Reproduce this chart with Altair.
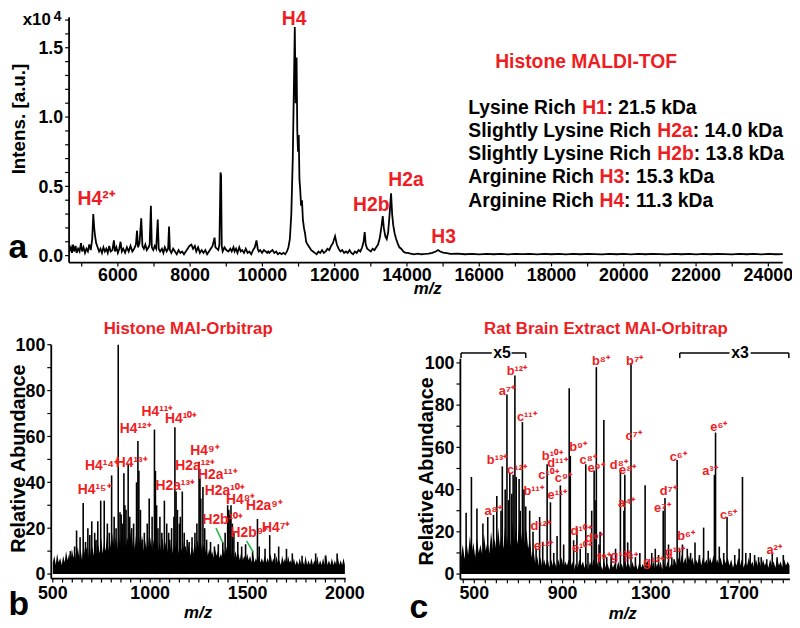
import altair as alt
import pandas as pd

# ---------------- DATA ----------------
# Panel a: Histone MALDI-TOF spectrum (m/z, intensity in 1e4 a.u.)
a_mz = [4660, 4700, 4730, 4760, 4790, 4830, 4860, 4900, 4940, 4980, 5010, 5050, 5090, 5130, 5170, 5210, 5250,
        5290, 5320, 5345, 5370, 5400, 5440, 5480, 5520, 5560, 5600, 5640, 5680, 5720, 5760, 5800, 5850, 5890,
        5920, 5960, 6000, 6040, 6074, 6110, 6150, 6200, 6250, 6300, 6350, 6400, 6450, 6500, 6530, 6560, 6600,
        6647, 6680, 6720, 6760, 6800, 6850, 6880, 6914, 6940, 6980, 7020, 7060, 7104, 7130, 7170, 7220, 7260,
        7300, 7350, 7390, 7416, 7440, 7480, 7530, 7580, 7630, 7680, 7730, 7780, 7830, 7880, 7930, 7980, 8036,
        8080, 8130, 8170, 8220, 8270, 8320, 8370, 8420, 8470, 8520, 8570, 8620, 8676, 8700, 8740, 8780, 8810,
        8841, 8856, 8875, 8900, 8950, 9000, 9060, 9110, 9150, 9200, 9230, 9270, 9310, 9360, 9400, 9440, 9490,
        9540, 9590, 9640, 9690, 9740, 9790, 9836, 9870, 9900, 9940, 9990, 10040, 10090, 10130, 10160, 10190, 10230,
        10280, 10330, 10380, 10430, 10480, 10530, 10580, 10630, 10680, 10720, 10760, 10800, 10840, 10870, 10896,
        10920, 10945, 10965, 10985, 11005, 11025, 11045, 11070, 11095, 11120, 11150, 11180, 11210, 11250, 11300,
        11350, 11400, 11450, 11500, 11550, 11600, 11650, 11700, 11750, 11800, 11850, 11900, 11950, 12010, 12060,
        12110, 12160, 12210, 12260, 12310, 12360, 12410, 12460, 12510, 12560, 12610, 12660, 12710, 12760, 12800,
        12830, 12860, 12900, 12950, 13000, 13050, 13100, 13150, 13200, 13250, 13300, 13330, 13360, 13400, 13440,
        13480, 13520, 13560, 13590, 13620, 13660, 13700, 13740, 13790, 13840, 13900, 13960, 14020, 14100, 14200,
        14300, 14400, 14500, 14600, 14700, 14800, 14860, 14920, 15000, 15100, 15200, 15400, 15600, 15800, 16000,
        16200, 16400, 16600, 16800, 17000, 17200, 17400, 17600, 17800, 18000, 18200, 18400, 18600, 18800, 19000,
        19200, 19400, 19600, 19800, 20000, 20200, 20400, 20600, 20800, 21000, 21200, 21400, 21600, 21800, 22000,
        22200, 22400, 22600, 22800, 23000, 23200, 23400, 23600, 23800, 24000, 24200, 24400]
a_int = [.03, .06, .02, .08, .03, .07, .02, .05, .03, .09, .03, .06, .02, .05, .03, .08, .04,
         .12, .30, .20, .14, .09, .06, .03, .05, .02, .06, .03, .05, .02, .07, .03, .04, .11,
         .03, .06, .02, .05, .10, .03, .05, .02, .06, .03, .07, .03, .05, .08, .18, .06, .09,
         .27, .07, .05, .08, .04, .06, .08, .36, .06, .04, .07, .05, .26, .05, .03, .05, .02,
         .06, .03, .05, .21, .04, .02, .05, .03, .01, .04, .02, .03, .01, .03, .05, .07, .08,
         .05, .07, .03, .06, .02, .04, .02, .04, .01, .03, .05, .07, .13, .06, .05, .04, .08,
         .60, .58, .07, .03, .06, .04, .03, .05, .03, .06, .03, .05, .02, .06, .03, .04, .02,
         .05, .02, .03, .01, .04, .06, .11, .05, .03, .04, .02, .04, .03, .02, .03, .02, .03,
         .04, .02, .03, .01, .02, .01, .02, .01, .03, .06, .12, .30, .70, 1.20, 1.65,
         1.10, 1.43, .90, .75, .87, .55, .48, .36, .40, .26, .20, .16, .10, .08, .06,
         .04, .03, .02, .01, .03, .02, .04, .02, .03, .05, .04, .07, .09, .14, .08,
         .05, .03, .04, .02, .03, .02, .04, .02, .01, .03, .02, .04, .03, .06, .10,
         .17, .08, .05, .04, .03, .05, .04, .06, .08, .13, .22, .285, .20, .14, .12,
         .17, .30, .45, .30, .22, .16, .12, .09, .06, .05, .03, .02, .02, .015, .01,
         .015, .01, .012, .015, .02, .03, .04, .03, .022, .018, .012, .014, .010, .013, .009,
         .012, .010, .013, .009, .012, .011, .013, .009, .012, .010, .013, .009, .012, .010, .013,
         .011, .009, .012, .010, .013, .009, .012, .010, .013, .011, .009, .012, .010, .013, .009,
         .012, .010, .013, .011, .009, .012, .010, .013, .009, .012, .010, .011]
a_labels = ["H4", "H4²⁺", "H2b", "H2a", "H3"]
a_label_mz = [10877, 5411, 13014, 13973, 15014]
a_label_y = [1.664, 0.364, 0.32, 0.50, 0.093]
a_xtick_labels = ["6000", "8000", "10000", "12000", "14000", "16000", "18000", "20000", "22000", "24000"]
a_ytick_labels = ["0.0", "0.5", "1.0", "1.5"]

info_prefix = ["Lysine Rich ", "Slightly Lysine Rich ", "Slightly Lysine Rich ", "Arginine Rich ", "Arginine Rich "]
info_name = ["H1", "H2a", "H2b", "H3", "H4"]
info_suffix = [": 21.5 kDa", ": 14.0 kDa", ": 13.8 kDa", ": 15.3 kDa", ": 11.3 kDa"]

# Panel b: Histone MAI-Orbitrap (noise envelope and peaks, relative abundance)
b_noise_mz = [500, 508, 515, 522, 530, 538, 546, 553, 561, 568, 576, 584, 591, 598, 606, 613, 620, 628, 636, 643,
              650, 658, 666, 673, 681, 688, 696, 703, 711, 718, 726, 733, 741, 748, 756, 763, 771, 778, 786, 793,
              801, 808, 816, 823, 831, 838, 846, 853, 861, 868, 876, 883, 891, 898, 906, 913, 921, 928, 936, 943,
              951, 958, 966, 973, 981, 988, 996, 1003, 1011, 1018, 1026, 1033, 1041, 1048, 1056, 1063, 1071, 1078,
              1086, 1093, 1101, 1108, 1116, 1123, 1131, 1138, 1146, 1153, 1161, 1168, 1176, 1183, 1191, 1198, 1206,
              1213, 1221, 1228, 1236, 1243, 1251, 1258, 1266, 1273, 1281, 1288, 1296, 1303, 1311, 1318, 1326, 1333,
              1341, 1348, 1356, 1363, 1371, 1378, 1386, 1393, 1401, 1408, 1416, 1423, 1431, 1438, 1446, 1453, 1461,
              1468, 1476, 1483, 1491, 1498, 1506, 1513, 1521, 1528, 1536, 1543, 1551, 1558, 1566, 1573, 1581, 1588,
              1596, 1603, 1611, 1618, 1626, 1633, 1641, 1648, 1656, 1663, 1671, 1678, 1686, 1693, 1701, 1708, 1716,
              1723, 1731, 1738, 1746, 1753, 1761, 1768, 1776, 1783, 1791, 1798, 1806, 1813, 1821, 1828, 1836, 1843,
              1851, 1858, 1866, 1873, 1881, 1888, 1896, 1903, 1911, 1918, 1926, 1933, 1941, 1948, 1956, 1963, 1971,
              1978, 1986, 1993, 2000]
b_noise_h = [5, 8, 4, 9, 5, 7, 4, 8, 5, 10, 6, 9, 5, 11, 7, 10, 6, 12, 7, 11,
             6, 13, 8, 12, 7, 14, 8, 12, 8, 15, 9, 13, 9, 16, 9, 14, 10, 17, 10, 15,
             10, 18, 11, 16, 11, 19, 12, 17, 11, 18, 12, 16, 12, 19, 11, 17, 11, 18, 12, 16,
             11, 17, 10, 15, 11, 17, 10, 16, 10, 15, 11, 17, 10, 14, 10, 16, 10, 14,
             9, 13, 10, 15, 9, 14, 11, 16, 9, 13, 10, 15, 9, 12, 9, 13, 8,
             12, 9, 14, 10, 15, 11, 16, 10, 13, 9, 12, 8, 11, 8, 10, 7, 11,
             8, 10, 7, 9, 7, 11, 8, 12, 9, 13, 8, 11, 7, 10, 7, 9, 6,
             10, 6, 8, 6, 9, 6, 8, 5, 9, 5, 7, 5, 8, 5, 7, 5, 8,
             5, 7, 5, 9, 5, 7, 4, 8, 5, 6, 4, 8, 5, 7, 4, 8, 5,
             6, 4, 7, 4, 6, 4, 7, 4, 6, 4, 8, 4, 6, 4, 7, 4, 6,
             4, 8, 4, 6, 4, 7, 4, 9, 4, 6, 4, 7, 4, 6, 4, 8, 4,
             6, 4, 7, 4]
b_peak_mz = [590, 612, 622, 640, 656, 668, 680, 690, 700, 715, 722, 731, 746, 764, 780, 790, 802, 815, 825, 836,
             845, 851, 858, 865, 870, 876, 887, 895, 905, 915, 930, 937, 942, 950, 960, 970, 985, 995, 1010, 1022,
             1027, 1033, 1040, 1050, 1060, 1073, 1085, 1095, 1100, 1110, 1122, 1127, 1133, 1140, 1150, 1155, 1165,
             1175, 1180, 1190, 1200, 1215, 1230, 1240, 1251, 1256, 1260, 1271, 1280, 1290, 1310, 1330, 1350, 1373,
             1385, 1398, 1404, 1410, 1415, 1422, 1430, 1450, 1470, 1490, 1526, 1551, 1560, 1590, 1614, 1640, 1660,
             1700, 1730, 1780, 1850, 1900, 1960]
b_peak_h = [10, 12, 19, 16, 31, 14, 20, 17, 23, 18, 15, 23, 32, 32, 22, 18, 43, 25, 20, 100,
            27, 26, 22, 44, 30, 28, 48, 25, 20, 22, 40, 58, 45, 28, 15, 18, 22, 33, 25, 63,
            45, 30, 20, 25, 18, 32, 22, 18, 15, 20, 25, 64, 36, 28, 22, 25, 36,
            18, 12, 15, 14, 16, 18, 22, 49, 42, 33, 38, 20, 15, 14, 12, 13, 14,
            18, 30, 28, 26, 30, 22, 18, 14, 12, 13, 10, 24, 12, 11, 17, 9, 12,
            11, 9, 8, 9, 8, 9]
b_labels = ["H4¹⁵⁺", "H4¹⁴⁺", "H4¹³⁺", "H4¹²⁺", "H4¹¹⁺", "H4¹⁰⁺", "H2a¹³⁺", "H4⁹⁺", "H2a¹²⁺", "H2a¹¹⁺",
            "H2a¹⁰⁺", "H4⁸⁺", "H2a⁹⁺", "H2b¹⁰⁺", "H2b⁹⁺", "H4⁷⁺"]
b_label_mz = [714.6, 752.7, 905, 925.6, 1037.5, 1159.5, 1129, 1281.5, 1230.7, 1347.6,
              1383, 1464.5, 1586.6, 1373, 1510, 1647.6]
b_label_y = [36.6, 47.3, 48.2, 63.3, 70.7, 67.6, 38.3, 53.8, 47.3, 43,
             36.1, 32.2, 29.7, 23.6, 18, 20.1]
b_leader_mz1 = [1338, 1495]
b_leader_mz2 = [1373.5, 1530.6]
b_leader_y1 = [20.1, 14.5]
b_leader_y2 = [13.6, 9.4]
b_xtick_labels = ["500", "1000", "1500", "2000"]
b_ytick_labels = ["0", "20", "40", "60", "80", "100"]

# Panel c: Rat brain extract MAI-Orbitrap
c_noise_mz = [440, 448, 456, 464, 472, 480, 488, 496, 504, 512, 520, 528, 536, 544, 552, 560, 568, 576, 584, 592,
              600, 608, 616, 624, 632, 640, 648, 656, 664, 672, 680, 688, 696, 704, 712, 720, 728, 736, 744, 752,
              760, 768, 776, 784, 792, 800, 808, 816, 824, 832, 840, 848, 856, 864, 872, 880, 888, 896, 904, 912,
              920, 928, 936, 944, 952, 960, 968, 976, 984, 992, 1000, 1008, 1016, 1024, 1032, 1040, 1048, 1056,
              1064, 1072, 1080, 1088, 1096, 1104, 1112, 1120, 1128, 1136, 1144, 1152, 1160, 1168, 1176, 1184, 1192,
              1200, 1208, 1216, 1224, 1232, 1240, 1248, 1256, 1264, 1272, 1280, 1288, 1296, 1304, 1312, 1320, 1328,
              1336, 1344, 1352, 1360, 1368, 1376, 1384, 1392, 1400, 1408, 1416, 1424, 1432, 1440, 1448, 1456, 1464,
              1472, 1480, 1488, 1496, 1504, 1512, 1520, 1528, 1536, 1544, 1552, 1560, 1568, 1576, 1584, 1592, 1600,
              1608, 1616, 1624, 1632, 1640, 1648, 1656, 1664, 1672, 1680, 1688, 1696, 1704, 1712, 1720, 1728, 1736,
              1744, 1752, 1760, 1768, 1776, 1784, 1792, 1800, 1808, 1816, 1824, 1832, 1840, 1848, 1856, 1864, 1872,
              1880, 1888, 1896, 1904, 1912, 1920, 1928]
c_noise_h = [8, 14, 7, 16, 9, 18, 10, 15, 8, 17, 10, 14, 9, 19, 11, 16, 10, 20, 12, 17,
             11, 22, 13, 19, 12, 24, 14, 21, 13, 25, 15, 22, 14, 26, 16, 23, 14, 21, 12, 17,
             8, 12, 5, 9, 4, 8, 3, 7, 4, 8, 3, 7, 4, 6, 3, 7, 4, 8, 3, 6,
             4, 7, 3, 6, 2, 5, 3, 7, 4, 6, 3, 5, 2, 6, 3, 7, 4, 6,
             3, 5, 2, 6, 3, 5, 2, 6, 3, 5, 2, 6, 3, 5, 2, 6, 3,
             5, 2, 6, 3, 5, 2, 6, 3, 5, 2, 6, 3, 5, 3, 6, 2, 5,
             3, 6, 2, 5, 3, 6, 3, 5, 4, 7, 4, 8, 5, 9, 5, 8, 4,
             9, 5, 8, 4, 7, 5, 9, 4, 8, 5, 7, 4, 8, 5, 9, 4, 7,
             5, 8, 4, 7, 5, 8, 4, 7, 3, 6, 4, 8, 4, 7, 3, 6, 4,
             8, 4, 6, 3, 7, 4, 6, 3, 7, 4, 6, 3, 7, 4, 6, 3, 8,
             4, 6, 3, 7, 4, 6, 4]
c_peak_mz = [463, 487, 512, 539, 561, 587, 602, 621, 627, 640, 648, 655, 661, 670, 676, 684, 690, 703, 708, 718,
             725, 733, 751, 766, 780, 796, 810, 830, 845, 860, 875, 890, 905, 930, 935, 950, 965, 980, 1005, 1015,
             1032, 1043, 1047, 1053, 1065, 1070, 1087, 1100, 1120, 1140, 1162, 1178, 1182, 1195, 1210, 1230, 1250,
             1274, 1285, 1304, 1320, 1335, 1356, 1364, 1380, 1395, 1405, 1419, 1430, 1443, 1465, 1480, 1500, 1520,
             1539, 1560, 1588, 1593, 1610, 1630, 1645, 1680, 1700, 1715, 1730, 1750, 1770, 1788, 1800, 1825, 1850,
             1872, 1900]
c_peak_h = [29, 46, 31, 24, 27, 28, 37, 30, 51, 40, 85, 35, 48, 38, 47, 94, 46, 45, 30, 72,
            40, 32, 30, 20, 12, 27, 15, 52, 34, 10, 18, 42, 14, 88, 56, 16, 22, 12, 52, 10,
            30, 49, 35, 98, 14, 20, 73, 8, 9, 12, 50, 30, 47, 15, 100, 8, 10,
            42, 6, 10, 12, 9, 30, 36, 14, 8, 7, 54, 12, 14, 12, 10, 15, 9,
            22, 11, 47, 67, 13, 10, 27, 9, 12, 46, 10, 10, 9, 8, 8, 7, 10,
            8, 9]
c_labels = ["b¹²⁺", "a⁷⁺", "c¹¹⁺", "b¹³⁺", "c¹²⁺", "b¹¹⁺", "a⁸⁺", "d¹²⁺", "e¹²⁺", "b¹⁰⁺",
            "d¹¹⁺", "c¹⁰⁺", "c⁹⁺", "e¹¹⁺", "b⁹⁺", "c⁸⁺", "e⁹⁺", "b⁸⁺", "d¹⁰⁺", "d⁹⁺",
            "e¹⁰⁺", "f⁹⁺", "g¹³⁺", "d⁸⁺", "e⁸⁺", "a⁴⁺", "b⁷⁺", "c⁷⁺", "f⁸⁺", "g¹²⁺",
            "g¹¹⁺", "d⁷⁺", "e⁷⁺", "c⁶⁺", "b⁶⁺", "a³⁺", "e⁶⁺", "c⁵⁺", "a²⁺"]
c_label_mz = [692.8, 648, 737.7, 603, 692.8, 769, 585, 800.4, 814, 854,
              876.7, 836.3, 903.6, 876.7, 970.9, 1015.7, 1051.6, 1074, 984.3, 1042.6,
              988.8, 1087.4, 1163.7, 1154.7, 1195, 1190.6, 1226.5, 1222, 1208.5, 1311.7,
              1410.3, 1379, 1352, 1423.8, 1459.6, 1567.3, 1607.6, 1652.5, 1858.7]
c_label_y = [96, 86.6, 74.4, 53.8, 49.1, 39.3, 30, 22.8, 13.4, 56.1,
             52.4, 46.8, 45.3, 37.3, 60.3, 53.8, 50, 101.1, 20.5, 17.2,
             12.5, 7.8, 8.7, 51.4, 49.1, 33.6, 101.1, 65.5, 7.8, 5.5,
             10.2, 39.3, 31.3, 55.6, 18.1, 48.6, 69.7, 28, 11.5]
c_scale_text = ["x5", "x3"]
c_scale_text_mz = [625.6, 1704]
c_bracket_mz1 = [440, 669, 1431, 1752]
c_bracket_mz2 = [579, 733, 1656, 1925]
c_bracket_ends = [440, 733, 1431, 1925]
c_bracket_level = 104.7
c_bracket_tip = 102.3
c_xtick_labels = ["500", "900", "1300", "1700"]
c_ytick_labels = ["0", "20", "40", "60", "80", "100"]

# ---------------- STYLE / LAYOUT ----------------
RED = "#ee1d23"
GREEN = "#2db34a"
FONT = "Liberation Sans"
W, H = 792, 620


def P(v):  # page pixel -> chart pixel
    return v - 8


def axis_layers(xs, ys, xdom, ydom, xaxis_px, yaxis_px, xticks, xlabs, yticks, ylabs, xlab_base):
    k = dict(color="black")
    dom_x = alt.Chart(pd.DataFrame({"a": [xdom[0]], "b": [xdom[1]]})).mark_rule(strokeWidth=1.8, **k).encode(
        x=alt.X("a:Q", scale=xs, axis=None), x2="b:Q", y=alt.value(xaxis_px))
    dom_y = alt.Chart(pd.DataFrame({"a": [ydom[0]], "b": [ydom[1]]})).mark_rule(strokeWidth=1.8, **k).encode(
        y=alt.Y("a:Q", scale=ys, axis=None), y2="b:Q", x=alt.value(yaxis_px))
    tk_x = alt.Chart(pd.DataFrame({"v": xticks})).mark_rule(strokeWidth=1.2, **k).encode(
        x=alt.X("v:Q", scale=xs, axis=None), y=alt.value(xaxis_px), y2=alt.value(xaxis_px + 4))
    tk_y = alt.Chart(pd.DataFrame({"v": yticks})).mark_rule(strokeWidth=1.2, **k).encode(
        y=alt.Y("v:Q", scale=ys, axis=None), x=alt.value(yaxis_px - 4), x2=alt.value(yaxis_px))
    lb_x = alt.Chart(pd.DataFrame({"v": [float(t) for t in xlabs], "t": xlabs})).mark_text(
        font=FONT, fontWeight="bold", fontSize=18, align="center", baseline="alphabetic", **k).encode(
        x=alt.X("v:Q", scale=xs, axis=None), y=alt.value(xlab_base), text="t:N")
    lb_y = alt.Chart(pd.DataFrame({"v": [float(t) for t in ylabs], "t": ylabs})).mark_text(
        font=FONT, fontWeight="bold", fontSize=18, align="right", baseline="alphabetic", dy=6.4, **k).encode(
        y=alt.Y("v:Q", scale=ys, axis=None), x=alt.value(yaxis_px - 6), text="t:N")
    return [dom_x, dom_y, tk_x, tk_y, lb_x, lb_y]


# ----- panel a -----
a_xdom, a_ydom = [4650, 24400], [-0.05, 1.72]
a_xs = alt.Scale(domain=a_xdom, range=[P(69.7), P(790.7)], nice=False, zero=False)
a_ys = alt.Scale(domain=a_ydom, range=[P(262), P(14.2)], nice=False, zero=False)
a_line = alt.Chart(pd.DataFrame({"mz": a_mz, "i": a_int})).mark_line(color="black", strokeWidth=1.8).encode(
    x=alt.X("mz:Q", scale=a_xs, axis=None), y=alt.Y("i:Q", scale=a_ys, axis=None))
a_lab = alt.Chart(pd.DataFrame({"t": a_labels, "mz": a_label_mz, "y": a_label_y})).mark_text(
    color=RED, font=FONT, fontWeight="bold", fontSize=19.5, baseline="alphabetic").encode(
    x=alt.X("mz:Q", scale=a_xs, axis=None), y=alt.Y("y:Q", scale=a_ys, axis=None), text="t:N")
a_axes = axis_layers(a_xs, a_ys, a_xdom, a_ydom, P(262), P(69.7), list(range(5000, 24001, 1000)),
                     a_xtick_labels, [k / 10 for k in range(0, 18)], a_ytick_labels, P(281))
panel_a = alt.layer(a_line, a_lab, *a_axes)

# ----- panel b -----
b_xdom, b_ydom = [492, 2005], [-2, 100]
b_xs = alt.Scale(domain=b_xdom, range=[P(51.7), P(349.3)], nice=False, zero=False)
b_ys = alt.Scale(domain=b_ydom, range=[P(581.3), P(345)], nice=False, zero=False)
b_noise = alt.Chart(pd.DataFrame({"mz": b_noise_mz, "h": b_noise_h})).mark_area(color="black").encode(
    x=alt.X("mz:Q", scale=b_xs, axis=None), y=alt.Y("h:Q", scale=b_ys, axis=None), y2=alt.datum(0))
b_peaks = alt.Chart(pd.DataFrame({"mz": b_peak_mz, "h": b_peak_h})).mark_rule(color="black", strokeWidth=1.6).encode(
    x=alt.X("mz:Q", scale=b_xs, axis=None), y=alt.Y("h:Q", scale=b_ys, axis=None), y2=alt.datum(0))
b_lead = alt.Chart(pd.DataFrame({"x1": b_leader_mz1, "x2": b_leader_mz2, "y1": b_leader_y1, "y2": b_leader_y2})
                   ).mark_rule(color=GREEN, strokeWidth=1.6).encode(
    x=alt.X("x1:Q", scale=b_xs, axis=None), x2="x2:Q", y=alt.Y("y1:Q", scale=b_ys, axis=None), y2="y2:Q")
b_lab = alt.Chart(pd.DataFrame({"t": b_labels, "mz": b_label_mz, "y": b_label_y})).mark_text(
    color=RED, font=FONT, fontWeight="bold", fontSize=14, baseline="middle").encode(
    x=alt.X("mz:Q", scale=b_xs, axis=None), y=alt.Y("y:Q", scale=b_ys, axis=None), text="t:N")
b_axes = axis_layers(b_xs, b_ys, b_xdom, b_ydom, P(581.3), P(51.7), list(range(500, 2001, 50)),
                     b_xtick_labels, list(range(0, 101, 10)), b_ytick_labels, P(602))
panel_b = alt.layer(b_noise, b_peaks, b_lead, b_lab, *b_axes)

# ----- panel c -----
c_xdom, c_ydom = [437, 1930], [-2.5, 102]
c_xs = alt.Scale(domain=c_xdom, range=[P(465), P(797.9)], nice=False, zero=False)
c_ys = alt.Scale(domain=c_ydom, range=[P(582), P(359.1)], nice=False, zero=False)
c_noise = alt.Chart(pd.DataFrame({"mz": c_noise_mz, "h": c_noise_h})).mark_area(color="black").encode(
    x=alt.X("mz:Q", scale=c_xs, axis=None), y=alt.Y("h:Q", scale=c_ys, axis=None), y2=alt.datum(0))
c_peaks = alt.Chart(pd.DataFrame({"mz": c_peak_mz, "h": c_peak_h})).mark_rule(color="black", strokeWidth=1.6).encode(
    x=alt.X("mz:Q", scale=c_xs, axis=None), y=alt.Y("h:Q", scale=c_ys, axis=None), y2=alt.datum(0))
c_lab = alt.Chart(pd.DataFrame({"t": c_labels, "mz": c_label_mz, "y": c_label_y})).mark_text(
    color=RED, font=FONT, fontWeight="bold", fontSize=13, baseline="middle").encode(
    x=alt.X("mz:Q", scale=c_xs, axis=None), y=alt.Y("y:Q", scale=c_ys, axis=None), text="t:N")
c_br = alt.Chart(pd.DataFrame({"x1": c_bracket_mz1, "x2": c_bracket_mz2})).mark_rule(
    color="black", strokeWidth=1.5).encode(
    x=alt.X("x1:Q", scale=c_xs, axis=None), x2="x2:Q", y=alt.Y(datum=c_bracket_level, scale=c_ys, axis=None))
c_br_end = alt.Chart(pd.DataFrame({"x": c_bracket_ends})).mark_rule(color="black", strokeWidth=1.5).encode(
    x=alt.X("x:Q", scale=c_xs, axis=None), y=alt.Y(datum=c_bracket_level, scale=c_ys, axis=None),
    y2=alt.datum(c_bracket_tip))
c_br_txt = alt.Chart(pd.DataFrame({"t": c_scale_text, "mz": c_scale_text_mz})).mark_text(
    color="black", font=FONT, fontWeight="bold", fontSize=16, baseline="middle").encode(
    x=alt.X("mz:Q", scale=c_xs, axis=None), y=alt.Y(datum=c_bracket_level, scale=c_ys, axis=None), text="t:N")
c_axes = axis_layers(c_xs, c_ys, c_xdom, c_ydom, P(582), P(465), list(range(450, 1901, 50)),
                     c_xtick_labels, list(range(0, 101, 10)), c_ytick_labels, P(602))
panel_c = alt.layer(c_noise, c_peaks, c_lab, c_br, c_br_end, c_br_txt, *c_axes)

# ----- static texts (page pixel layout) -----
static_center = pd.DataFrame([
    ("Histone MALDI-TOF", 592, 65, RED, 19.5, 0),
    ("Histone MAI-Orbitrap", 190, 334, RED, 17, 0),
    ("Rat Brain Extract MAI-Orbitrap", 612, 334, RED, 17, 0),
    ("Intens. [a.u.]", 25, 117, "black", 19, 270),
    ("Relative Abundance", 25, 460, "black", 20, 270),
    ("Relative Abundance", 437, 473, "black", 20, 270),
    ("a", 18, 257, "black", 34, 0),
    ("b", 19, 618, "black", 34, 0),
    ("c", 423, 621, "black", 34, 0),
    ("x10", 37, 22, "black", 17, 0),
    ("4", 58, 18, "black", 14, 0),
], columns=["t", "x", "y", "c", "s", "a"])
static_center["x"] = static_center["x"].map(P)
static_center["y"] = static_center["y"].map(P)

info_rows = []
name_x = [588, 664, 664, 605.5, 605.5]
suffix_x = [612.6, 699.8, 700.8, 630.4, 630.4]
line_y = [112, 135, 158, 182, 206]
for k in range(5):
    info_rows.append((info_prefix[k], 473, line_y[k], "black"))
    info_rows.append((info_name[k], name_x[k], line_y[k], RED))
    info_rows.append((info_suffix[k], suffix_x[k], line_y[k], "black"))
static_left = pd.DataFrame(info_rows, columns=["t", "x", "y", "c"])
static_left["x"] = static_left["x"].map(P)
static_left["y"] = static_left["y"].map(P)

mz_titles = pd.DataFrame({"t": ["m/z", "m/z", "m/z"], "x": [P(432), P(200), P(629)], "y": [P(294), P(621), P(622)]})


def pix_enc(extra):
    base = dict(x=alt.X("x:Q", scale=None, axis=None), y=alt.Y("y:Q", scale=None, axis=None), text="t:N")
    base.update(extra)
    return base


t_center = alt.Chart(static_center).mark_text(font=FONT, fontWeight="bold", align="center",
                                             baseline="alphabetic").encode(
    **pix_enc(dict(color=alt.Color("c:N", scale=None), size=alt.Size("s:Q", scale=None),
                   angle=alt.Angle("a:Q", scale=None))))
t_left = alt.Chart(static_left).mark_text(font=FONT, fontWeight="bold", align="left", baseline="alphabetic",
                                         fontSize=19.5).encode(**pix_enc(dict(color=alt.Color("c:N", scale=None))))
t_mz = alt.Chart(mz_titles).mark_text(font=FONT, fontWeight="bold", fontStyle="italic", fontSize=17,
                                     align="center", baseline="alphabetic", color="black").encode(**pix_enc({}))

chart = alt.layer(panel_a, panel_b, panel_c, t_center, t_left, t_mz).resolve_scale(
    x="independent", y="independent").properties(
    width=W, height=H, autosize=alt.AutoSizeParams(type="none"), padding=0).configure_view(stroke=None)

chart.save("out.html", embed_options={"renderer": "svg", "actions": False})
